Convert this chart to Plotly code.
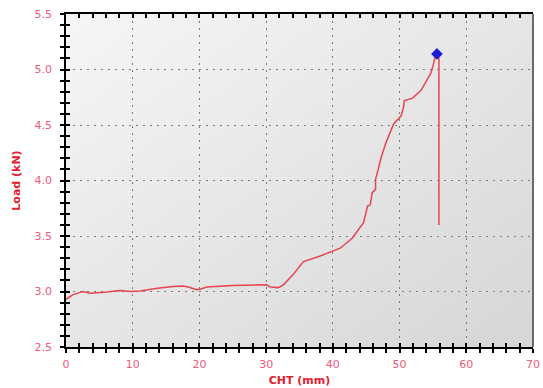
import base64
import plotly.graph_objects as go

# Crosshead travel (mm) and measured load (kN)
cht = [0, 0.3, 1.0, 2.0, 2.5, 3.6, 5.0, 6.1, 8.1, 9.6, 11.1, 13.7, 16.1, 17.6,
       18.3, 19.6, 20.1, 21.1, 25.0, 30.1, 30.6, 31.8, 32.6, 34.0, 35.6, 38.1,
       41.1, 42.9, 44.6, 45.2, 45.6, 45.9, 46.4, 46.4, 46.8, 47.2, 47.9, 49.1,
       50.2, 50.6, 50.7, 51.9, 53.2, 54.7, 55.0, 55.3, 55.6, 55.9, 55.9]
load = [2.93, 2.94, 2.97, 2.99, 3.00, 2.985, 2.99, 2.995, 3.01, 3.00, 3.005,
        3.03, 3.045, 3.05, 3.04, 3.015, 3.02, 3.04, 3.055, 3.06, 3.04, 3.035,
        3.06, 3.15, 3.27, 3.32, 3.39, 3.48, 3.62, 3.77, 3.78, 3.89, 3.92, 4.01,
        4.10, 4.20, 4.33, 4.51, 4.58, 4.66, 4.72, 4.74, 4.81, 4.97, 5.03, 5.11,
        5.14, 5.10, 3.60]

# Maximum load point
peak_cht = [55.6]
peak_load = [5.14]

x_ticks = [0, 10, 20, 30, 40, 50, 60, 70]
y_ticks = [2.5, 3.0, 3.5, 4.0, 4.5, 5.0, 5.5]

LABEL_RED = "#ee5a78"
TITLE_RED = "#e0202c"
FONT = "DejaVu Sans"
GRID_DASH = "2px,5px"

# Diagonal grey gradient for the plotting area
svg = (
    '<svg xmlns="http://www.w3.org/2000/svg" width="100" height="100" '
    'preserveAspectRatio="none">'
    '<defs><linearGradient id="g" x1="0" y1="0" x2="1" y2="1">'
    '<stop offset="0" stop-color="#f6f6f6"/>'
    '<stop offset="1" stop-color="#d6d6d6"/></linearGradient></defs>'
    '<rect width="100" height="100" fill="url(#g)"/></svg>'
)
bg_src = "data:image/svg+xml;base64," + base64.b64encode(svg.encode()).decode()

fig = go.Figure()
fig.add_trace(go.Scatter(
    x=cht, y=load, mode="lines",
    line=dict(color="#e8444e", width=1.5),
    hoverinfo="skip", showlegend=False,
))
fig.add_trace(go.Scatter(
    x=peak_cht, y=peak_load, mode="markers",
    marker=dict(symbol="diamond", size=9, color="#1a1ad8"),
    hoverinfo="skip", showlegend=False,
))
# Empty trace that carries the outer-tick axes
fig.add_trace(go.Scatter(
    x=[None], y=[None], xaxis="x2", yaxis="y2",
    hoverinfo="skip", showlegend=False,
))

common = dict(showline=True, linecolor="black", linewidth=1.5,
              tickcolor="black", tickwidth=1.5, zeroline=False,
              automargin=False)

fig.update_layout(
    width=543, height=388,
    margin=dict(l=66, r=10, t=14, b=41),
    paper_bgcolor="white",
    plot_bgcolor="rgba(0,0,0,0)",
    font=dict(family=FONT, size=11, color=LABEL_RED),
    images=[dict(source=bg_src, xref="paper", yref="paper", x=0, y=1,
                 sizex=1, sizey=1, sizing="stretch", layer="below")],
    xaxis=dict(
        range=[0, 70], tickvals=x_ticks, ticks="inside", ticklen=4,
        mirror="ticks",
        minor=dict(dtick=2, tick0=0, ticks="inside", ticklen=4,
                   tickcolor="black", tickwidth=1.5, showgrid=False),
        showgrid=True, gridcolor="#7a7a7a", griddash=GRID_DASH, gridwidth=1,
        tickfont=dict(color=LABEL_RED, size=11, family=FONT),
        ticklabelstandoff=6,
        title=dict(text="<b>CHT (mm)</b>", standoff=6,
                   font=dict(color=TITLE_RED, size=11, family=FONT)),
        **common,
    ),
    yaxis=dict(
        range=[2.5, 5.5], tickvals=y_ticks, tickformat=".1f",
        ticks="inside", ticklen=4, mirror=False,
        minor=dict(dtick=0.1, tick0=2.5, ticks="inside", ticklen=4,
                   tickcolor="black", tickwidth=1.5, showgrid=False),
        showgrid=True, gridcolor="#7a7a7a", griddash=GRID_DASH, gridwidth=1,
        tickfont=dict(color=LABEL_RED, size=11, family=FONT),
        ticklabelstandoff=10,
        title=dict(text="<b>Load (kN)</b>", standoff=12,
                   font=dict(color=TITLE_RED, size=11, family=FONT)),
        **common,
    ),
    xaxis2=dict(
        overlaying="x", anchor="y2", side="bottom", range=[0, 70],
        tickvals=x_ticks, ticks="outside", ticklen=4, showticklabels=False,
        minor=dict(dtick=2, tick0=0, ticks="outside", ticklen=4,
                   tickcolor="black", tickwidth=1.5),
        showgrid=False, mirror=False, **common,
    ),
    yaxis2=dict(
        overlaying="y", anchor="x2", side="left", range=[2.5, 5.5],
        tickvals=y_ticks, ticks="outside", ticklen=4, showticklabels=False,
        minor=dict(dtick=0.1, tick0=2.5, ticks="outside", ticklen=4,
                   tickcolor="black", tickwidth=1.5),
        showgrid=False, mirror=False, **common,
    ),
    shapes=[dict(type="line", xref="paper", yref="paper", x0=1, x1=1,
                 y0=0, y1=1, line=dict(color="#6a6a6a", width=2))],
)

fig.write_html("out.html")
